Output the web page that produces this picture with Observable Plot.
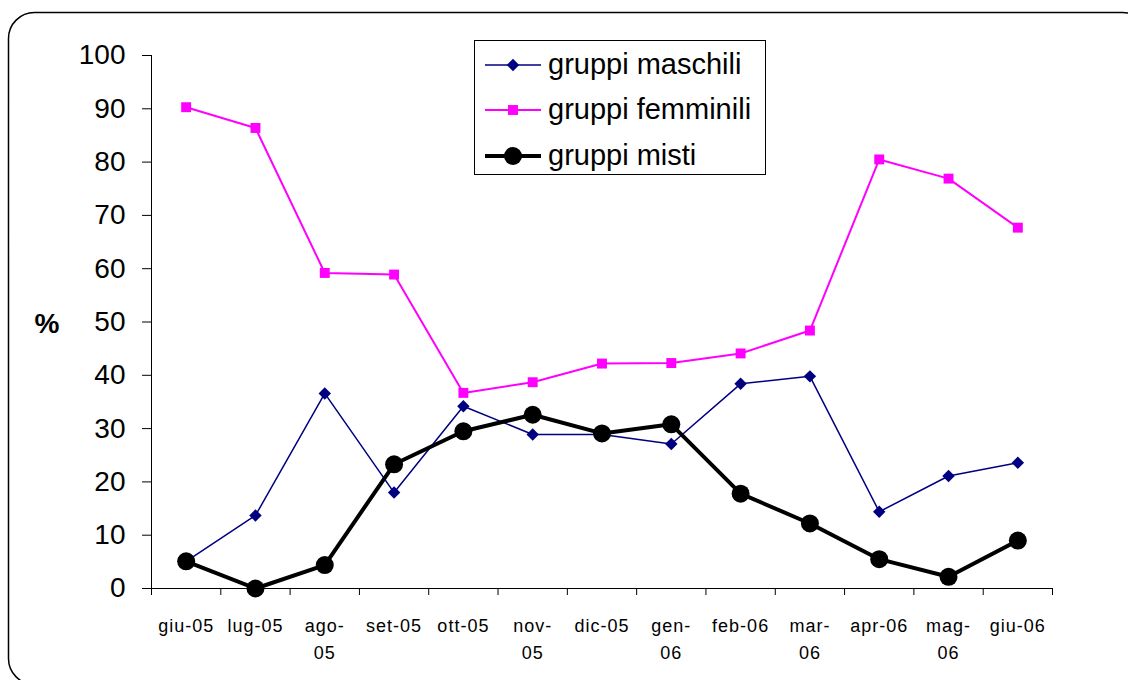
<!DOCTYPE html>
<html>
<head>
<meta charset="utf-8">
<script src="https://cdn.jsdelivr.net/npm/d3@7"></script>
<script src="https://cdn.jsdelivr.net/npm/@observablehq/plot@0.6"></script>
<style>
  html, body { margin: 0; padding: 0; background: #fff; }
  #chart { position: relative; width: 1128px; height: 680px; overflow: hidden; }
</style>
</head>
<body>
<div id="chart"></div>
<script>
const categories = ["giu-05","lug-05","ago-05","set-05","ott-05","nov-05","dic-05","gen-06","feb-06","mar-06","apr-06","mag-06","giu-06"];
const tickLabels = ["giu-05","lug-05","ago-\n05","set-05","ott-05","nov-\n05","dic-05","gen-\n06","feb-06","mar-\n06","apr-06","mag-\n06","giu-06"];
const yTicks = [0,10,20,30,40,50,60,70,80,90,100];
const maschili  = [5.1, 13.7, 36.6, 18.0, 34.2, 28.9, 28.9, 27.1, 38.4, 39.8, 14.4, 21.1, 23.6];
const femminili = [90.3, 86.4, 59.2, 58.9, 36.7, 38.7, 42.2, 42.3, 44.1, 48.4, 80.5, 76.9, 67.7];
const misti     = [5.1, 0.0, 4.4, 23.3, 29.5, 32.6, 29.1, 30.8, 17.8, 12.2, 5.5, 2.2, 9.0];
const seriesNames = ["gruppi maschili", "gruppi femminili", "gruppi misti"];

const FONT = "'Liberation Sans', Arial, sans-serif";
const idx = (d, i) => i;
const boundaries = d3.range(categories.length + 1).map(i => i - 0.5);

const plot = Plot.plot({
  width: 1128,
  height: 680,
  marginLeft: 151,
  marginRight: 76,
  marginTop: 55,
  marginBottom: 92,
  style: {fontFamily: FONT, fontSize: "28px", background: "transparent", overflow: "visible"},
  x: {domain: [-0.5, categories.length - 0.5], axis: null},
  y: {domain: [0, 100], axis: null},
  marks: [
    Plot.axisY({ticks: yTicks, tickSize: 9, tickPadding: 17, fontSize: 28, label: null, stroke: "#000", color: "#000"}),
    Plot.axisX({ticks: boundaries, tickSize: 7, tickFormat: () => "", label: null, stroke: "#000"}),
    Plot.ruleX([-0.5], {y1: 0, y2: 100, stroke: "#000", strokeWidth: 1}),
    Plot.ruleY([0], {x1: -0.5, x2: categories.length - 0.5, stroke: "#000", strokeWidth: 1}),
    Plot.text(tickLabels, {x: idx, y: () => 0, text: d => d, lineAnchor: "top", dy: 24, fontSize: 18, lineHeight: 1.5, fill: "#000"}),
    Plot.line(femminili, {x: idx, y: d => d, stroke: "#FF00FF", strokeWidth: 2}),
    Plot.dot(femminili, {x: idx, y: d => d, symbol: "square", r: 5.6, fill: "#FF00FF", stroke: "none"}),
    Plot.line(maschili, {x: idx, y: d => d, stroke: "#000080", strokeWidth: 1.5}),
    Plot.dot(maschili, {x: idx, y: d => d, symbol: "diamond2", r: 5.6, fill: "#000080", stroke: "none"}),
    Plot.line(misti, {x: idx, y: d => d, stroke: "#000", strokeWidth: 4}),
    Plot.dot(misti, {x: idx, y: d => d, r: 9, fill: "#000", stroke: "none"})
  ]
});

document.getElementById("chart").appendChild(plot);
const svg = d3.select(plot);

// x label letter spacing
svg.selectAll('g[aria-label="text"] text').style("letter-spacing", "1px");

// outer rounded frame
svg.insert("rect", ":first-child")
  .attr("x", 8.5).attr("y", 12.5).attr("width", 1140).attr("height", 672)
  .attr("rx", 26).attr("ry", 26)
  .attr("fill", "#fff").attr("stroke", "#000").attr("stroke-width", 1.5);

// y label
svg.append("text").attr("x", 47).attr("y", 333).attr("text-anchor", "middle")
  .attr("font-weight", "bold").attr("font-size", 28).attr("font-family", FONT).text("%");

// legend
const lg = svg.append("g").attr("font-family", FONT).attr("font-size", 29).attr("text-anchor", "start");
lg.append("rect").attr("x", 474.5).attr("y", 40.5).attr("width", 291).attr("height", 134)
  .attr("fill", "#fff").attr("stroke", "#000").attr("stroke-width", 1);
const legendStyles = [
  {color: "#000080", w: 1.5, sym: d3.symbolDiamond2, size: Math.PI * 5.6 * 5.6},
  {color: "#FF00FF", w: 2, sym: d3.symbolSquare, size: Math.PI * 5.6 * 5.6},
  {color: "#000", w: 4, sym: d3.symbolCircle, size: Math.PI * 81}
];
const rowY = [65, 110, 156];
seriesNames.forEach((name, i) => {
  const s = legendStyles[i];
  const y = rowY[i];
  lg.append("line").attr("x1", 485).attr("x2", 541).attr("y1", y).attr("y2", y)
    .attr("stroke", s.color).attr("stroke-width", s.w);
  lg.append("path").attr("d", d3.symbol(s.sym, s.size)()).attr("transform", `translate(513,${y})`)
    .attr("fill", s.color);
  lg.append("text").attr("x", 548).attr("y", y + 9).attr("text-anchor", "start").attr("fill", "#000").text(name);
});
</script>
</body>
</html>
